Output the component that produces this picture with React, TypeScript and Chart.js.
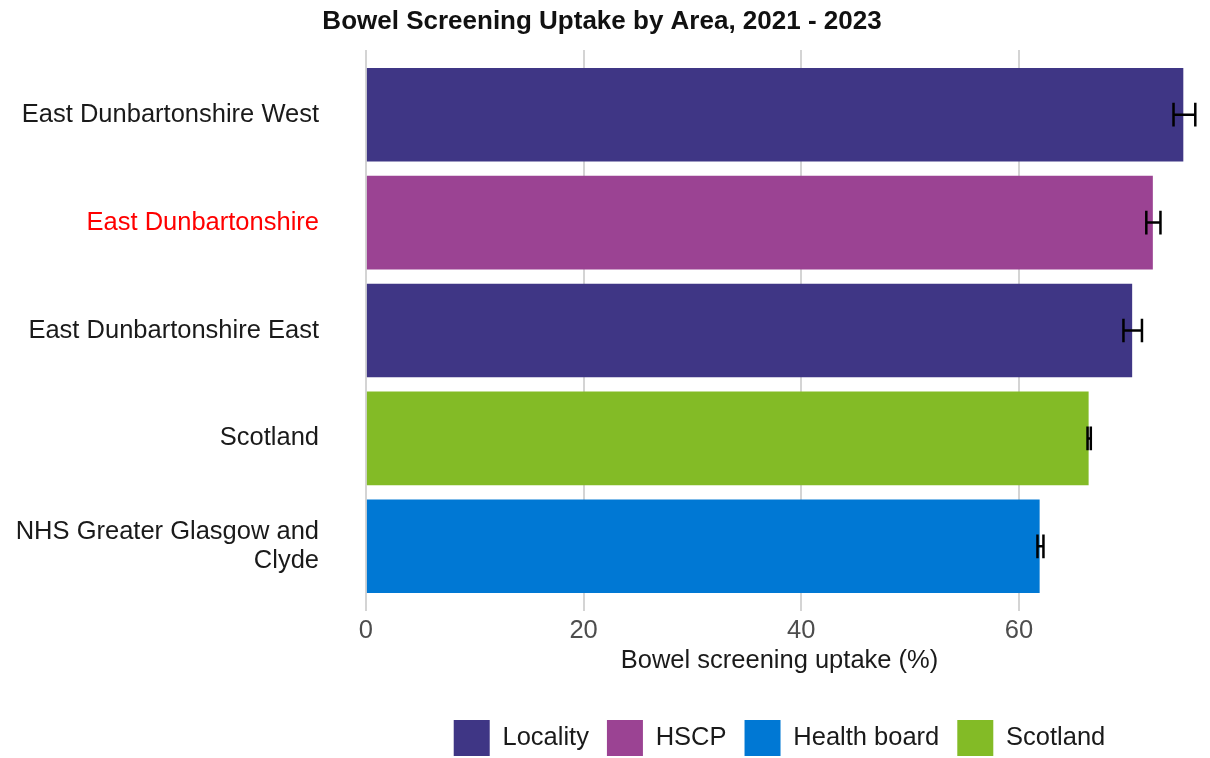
import React, { useEffect, useRef } from "react";
import { Chart, registerables } from "chart.js";

Chart.register(...registerables);

// ---- Data ----
const areas: string[] = [
  "East Dunbartonshire West",
  "East Dunbartonshire",
  "East Dunbartonshire East",
  "Scotland",
  "NHS Greater Glasgow and Clyde",
];
const areaLabelLines: string[][] = [
  ["East Dunbartonshire West"],
  ["East Dunbartonshire"],
  ["East Dunbartonshire East"],
  ["Scotland"],
  ["NHS Greater Glasgow and", "Clyde"],
];
const areaTypes: string[] = ["Locality", "HSCP", "Locality", "Scotland", "Health board"];
const uptake: number[] = [75.1, 72.3, 70.4, 66.4, 61.9];
const lowerCI: number[] = [74.2, 71.7, 69.6, 66.3, 61.7];
const upperCI: number[] = [76.2, 73.0, 71.3, 66.6, 62.25];
const highlightArea = "East Dunbartonshire";

const legendTypes: string[] = ["Locality", "HSCP", "Health board", "Scotland"];
const legendColors: string[] = ["#3F3685", "#9B4393", "#0078D4", "#83BB26"];

const xTicks: number[] = [0, 20, 40, 60];

const FONT = '"Liberation Sans", Arial, Helvetica, sans-serif';

const colorFor = (t: string) => legendColors[legendTypes.indexOf(t)];

const errorBarPlugin = {
  id: "errorBars",
  afterDatasetsDraw(chart: any) {
    const { ctx, scales } = chart;
    const xs = scales.x;
    const ys = scales.y;
    ctx.save();
    ctx.strokeStyle = "#000000";
    ctx.lineWidth = 2.5;
    ctx.lineCap = "butt";
    for (let i = 0; i < areas.length; i++) {
      const x1 = xs.getPixelForValue(lowerCI[i]);
      const x2 = xs.getPixelForValue(upperCI[i]);
      const yc = ys.getPixelForValue(i);
      const yt = ys.getPixelForValue(i - 0.11);
      const yb = ys.getPixelForValue(i + 0.11);
      ctx.beginPath();
      ctx.moveTo(x1, yc);
      ctx.lineTo(x2, yc);
      ctx.moveTo(x1, yt);
      ctx.lineTo(x1, yb);
      ctx.moveTo(x2, yt);
      ctx.lineTo(x2, yb);
      ctx.stroke();
    }
    ctx.restore();
  },
};

export default function App() {
  const ref = useRef<HTMLCanvasElement | null>(null);

  useEffect(() => {
    if (!ref.current) return;
    Chart.defaults.font.family = FONT;
    const chart = new Chart(ref.current, {
      type: "bar",
      data: {
        datasets: [
          {
            label: "Uptake",
            data: uptake.map((v, i) => ({ x: v, y: i })) as any,
            backgroundColor: areaTypes.map(colorFor),
            borderWidth: 0,
            barPercentage: 0.868,
            categoryPercentage: 1,
          },
        ],
      },
      options: {
        indexAxis: "y",
        responsive: false,
        animation: false,
        events: [],
        layout: { padding: { left: 0, right: 6, top: 0, bottom: 0 } },
        scales: {
          x: {
            type: "linear",
            min: -1,
            max: 77,
            offset: false,
            grid: { color: "#d4d4d4", lineWidth: 2, drawTicks: false },
            border: { display: false },
            afterBuildTicks: (s: any) => {
              s.ticks = xTicks.map((v) => ({ value: v }));
            },
            afterFit: (s: any) => {
              s.height = 91;
              s.paddingLeft = 0;
              s.paddingRight = 0;
            },
            ticks: {
              padding: 5,
              color: "#4d4d4d",
              font: { size: 25.5, family: FONT },
            },
            title: {
              display: true,
              text: "Bowel screening uptake (%)",
              color: "#1a1a1a",
              font: { size: 25.5, family: FONT },
              padding: { top: 0, bottom: 25.5 },
            },
          },
          y: {
            type: "linear",
            reverse: true,
            min: -0.6,
            max: 4.6,
            offset: false,
            grid: { display: false, drawTicks: false, offset: false },
            border: { display: false },
            afterBuildTicks: (s: any) => {
              s.ticks = areas.map((_, i) => ({ value: i }));
            },
            afterFit: (s: any) => {
              s.width = 355;
              s.paddingTop = 0;
              s.paddingBottom = 0;
            },
            ticks: {
              padding: 36,
              font: { size: 25.5, family: FONT, lineHeight: 1.125 },
              color: (c: any) =>
                areas[c.index] === highlightArea ? "#FF0000" : "#1a1a1a",
              callback: (_v: any, i: number) => areaLabelLines[i],
            },
          },
        },
        plugins: {
          title: {
            display: true,
            text: "Bowel Screening Uptake by Area, 2021 - 2023",
            color: "#111111",
            font: { size: 26, weight: "bold", family: FONT },
            padding: { top: 6.4, bottom: 12.4 },
          },
          legend: {
            display: true,
            position: "bottom",
            fullSize: false,
            labels: {
              boxWidth: 36,
              boxHeight: 36,
              padding: 18,
              color: "#1a1a1a",
              font: { size: 25.5, family: FONT },
              generateLabels: () =>
                legendTypes.map((t, i) => ({
                  text: t,
                  fillStyle: legendColors[i],
                  strokeStyle: legendColors[i],
                  lineWidth: 0,
                  hidden: false,
                  fontColor: "#1a1a1a",
                })) as any,
            },
          },
          tooltip: { enabled: false },
        },
      },
      plugins: [errorBarPlugin],
    });
    return () => chart.destroy();
  }, []);

  return (
    <div
      style={{
        position: "fixed",
        left: 0,
        top: 0,
        width: 1210,
        height: 758,
        overflow: "hidden",
        background: "#ffffff",
      }}
    >
      <canvas ref={ref} width={1210} height={766} style={{ display: "block" }} />
    </div>
  );
}
